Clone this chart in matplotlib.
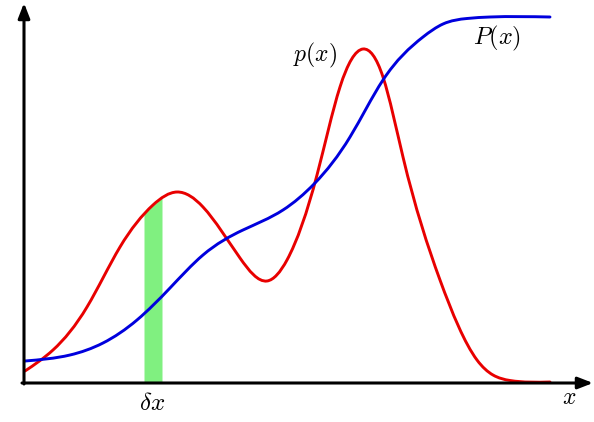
import matplotlib.pyplot as plt
import numpy as np
from matplotlib.path import Path
from matplotlib.patches import PathPatch

plt.rcParams['mathtext.fontset'] = 'cm'

# values, in pixels of the 594x422 picture
red_px_x = [25, 53, 87, 120, 153, 177, 203, 240, 267, 287, 317, 340, 363, 383, 403,
            440, 477, 493, 510, 550]
red_px_y = [371, 350, 307, 247, 205, 192, 207, 258, 281, 260, 175, 87, 49, 77, 157,
            280, 360, 375, 380.5, 382]

blue_px_x = [25, 70, 103, 137, 170, 203, 243, 283, 315, 350, 383, 423, 443, 467, 490, 550]
blue_px_y = [361, 355, 343, 320, 288, 255, 230, 210, 183, 137, 80, 37, 24, 18.5, 17, 17]

strip_px_x = [144, 162]
strip_px_top = [213, 198]

# origin of the drawn axes in the picture
x0, y0 = 24, 383


def spline_path(xs, ys):
    # natural cubic spline through the points, written as Bezier segments
    x = np.asarray(xs, float)
    y = np.asarray(ys, float)
    n = len(x)
    h = np.diff(x)
    A = np.zeros((n, n))
    b = np.zeros(n)
    A[0, 0] = A[-1, -1] = 1
    for i in range(1, n - 1):
        A[i, i - 1] = h[i - 1]
        A[i, i] = 2 * (h[i - 1] + h[i])
        A[i, i + 1] = h[i]
        b[i] = 6 * ((y[i + 1] - y[i]) / h[i] - (y[i] - y[i - 1]) / h[i - 1])
    M = np.linalg.solve(A, b)
    m = np.empty(n)
    m[:-1] = (y[1:] - y[:-1]) / h - h * (2 * M[:-1] + M[1:]) / 6
    m[-1] = (y[-1] - y[-2]) / h[-1] + h[-1] * (M[-2] + 2 * M[-1]) / 6
    verts = [(x[0], y[0])]
    codes = [Path.MOVETO]
    for i in range(n - 1):
        verts += [(x[i] + h[i] / 3, y[i] + h[i] * m[i] / 3),
                  (x[i + 1] - h[i] / 3, y[i + 1] - h[i] * m[i + 1] / 3),
                  (x[i + 1], y[i + 1])]
        codes += [Path.CURVE4] * 3
    return Path(verts, codes)


red_x = np.array(red_px_x) - x0
red_y = y0 - np.array(red_px_y)
blue_x = np.array(blue_px_x) - x0
blue_y = y0 - np.array(blue_px_y)
strip_x = np.array(strip_px_x) - x0
strip_top = y0 - np.array(strip_px_top)

fig = plt.figure(figsize=(5.94, 4.22), dpi=100)
ax = fig.add_axes([0, 0, 1, 1])
ax.set_xlim(-x0, 594 - x0)
ax.set_ylim(-(422 - y0), y0)
ax.axis('off')

ax.fill_between(strip_x, 0, strip_top, color='#80F080', lw=0, zorder=1)
ax.add_patch(PathPatch(spline_path(red_x, red_y), fill=False, edgecolor='#E80000',
                       lw=2.1, capstyle='round', zorder=2))
ax.add_patch(PathPatch(spline_path(blue_x, blue_y), fill=False, edgecolor='#0000DD',
                       lw=2.1, capstyle='round', zorder=3))

arrow = dict(arrowstyle='-|>,head_length=0.9,head_width=0.35', color='black',
             lw=2.2, shrinkA=0, shrinkB=0)
ax.annotate('', xy=(593 - x0, 0), xytext=(-2, 0), arrowprops=arrow, zorder=4)
ax.annotate('', xy=(0, y0 - 3), xytext=(0, -1), arrowprops=arrow, zorder=4)

ax.text(315 - x0, y0 - 55, r'$p(x)$', fontsize=17, ha='center', va='center')
ax.text(497 - x0, y0 - 38, r'$P(x)$', fontsize=17.5, ha='center', va='center')
ax.text(152 - x0, y0 - 403, r'$\delta x$', fontsize=18, ha='center', va='center')
ax.text(569 - x0, y0 - 397, r'$x$', fontsize=17, ha='center', va='center')

fig.savefig('out.png', dpi=100)
